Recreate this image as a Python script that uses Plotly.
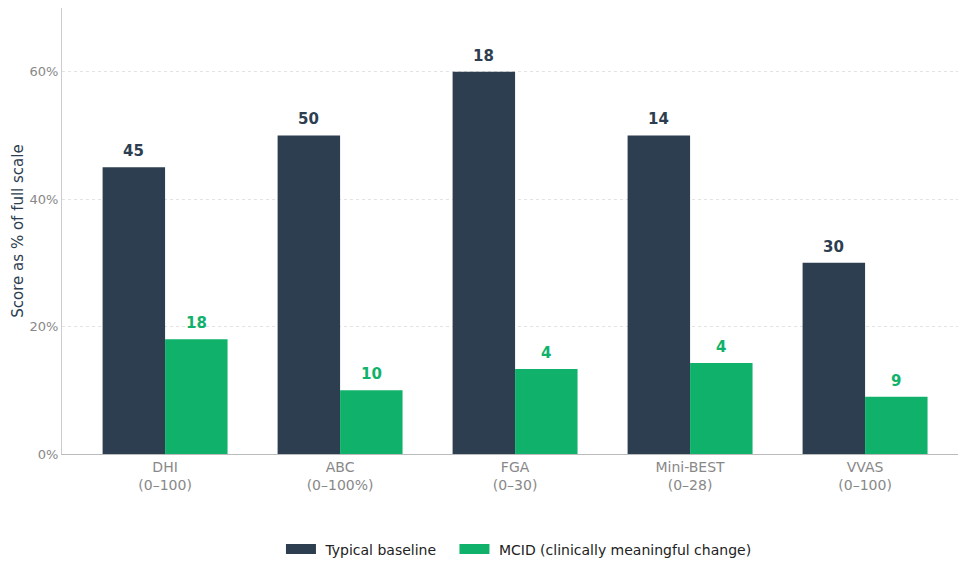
import plotly.graph_objects as go

categories = ["DHI<br>(0–100)", "ABC<br>(0–100%)", "FGA<br>(0–30)", "Mini-BEST<br>(0–28)", "VVAS<br>(0–100)"]
scale_max = [100, 100, 30, 28, 100]
baseline_raw = [45, 50, 18, 14, 30]
mcid_raw = [18, 10, 4, 4, 9]
y_ticks = [0, 20, 40, 60]
y_tick_labels = ["0%", "20%", "40%", "60%"]
series_names = ["Typical baseline", "MCID (clinically meaningful change)"]

baseline_pct = [v / m * 100 for v, m in zip(baseline_raw, scale_max)]
mcid_pct = [v / m * 100 for v, m in zip(mcid_raw, scale_max)]

dark = "#2d3e50"
green = "#10b26b"
font = "DejaVu Sans"
xs = list(range(len(categories)))

fig = go.Figure()
fig.add_trace(go.Bar(x=xs, y=baseline_pct, name=series_names[0], showlegend=False,
                     marker=dict(color=dark, line=dict(width=0)), offsetgroup="a"))
fig.add_trace(go.Bar(x=xs, y=mcid_pct, name=series_names[1], showlegend=False,
                     marker=dict(color=green, line=dict(width=0)), offsetgroup="b"))
# legend entries as wide swatches
fig.add_trace(go.Scatter(x=[None], y=[None], mode="lines", name="\u00a0" + series_names[0] + "\u00a0" * 3,
                         line=dict(color=dark, width=11)))
fig.add_trace(go.Scatter(x=[None], y=[None], mode="lines", name="\u00a0" + series_names[1],
                         line=dict(color=green, width=11)))

half = (1 - 0.286) / 4
for i in xs:
    fig.add_annotation(x=i - half, y=baseline_pct[i], text=f"<b>{baseline_raw[i]}</b>", showarrow=False,
                       yanchor="bottom", yshift=5, font=dict(size=15, color=dark, family=font))
    fig.add_annotation(x=i + half, y=mcid_pct[i], text=f"<b>{mcid_raw[i]}</b>", showarrow=False,
                       yanchor="bottom", yshift=5, font=dict(size=15, color=green, family=font))

fig.update_layout(
    width=958, height=566,
    margin=dict(l=62, r=0, t=8, b=112),
    paper_bgcolor="white", plot_bgcolor="white",
    barmode="group", bargap=0.286, bargroupgap=0,
    font=dict(family=font, size=13, color="#888888"),
    showlegend=True,
    legend=dict(orientation="h", x=0.51, xanchor="center", y=-0.25, yanchor="bottom",
                font=dict(size=14, color="#222222", family=font), itemwidth=30,
                traceorder="normal"),
    xaxis=dict(
        tickmode="array", tickvals=xs, ticktext=categories, automargin=False,
        range=[-0.589, 4.531], showline=True, linecolor="#bbbbbb", linewidth=1,
        ticks="", showgrid=False, zeroline=False,
        tickfont=dict(size=14, color="#888888", family=font),
    ),
    yaxis=dict(
        range=[0, 70], tickmode="array", tickvals=y_ticks, ticktext=y_tick_labels, automargin=True,
        showline=True, linecolor="#cccccc", linewidth=1,
        showgrid=True, gridcolor="#e3e3e3", griddash="dot", gridwidth=1,
        zeroline=False, ticks="",
        tickfont=dict(size=13, color="#888888", family=font),
        title=dict(text="Score as % of full scale", font=dict(size=15, color="#2d3e50", family=font), standoff=2),
    ),
)

fig.write_html("out.html")
